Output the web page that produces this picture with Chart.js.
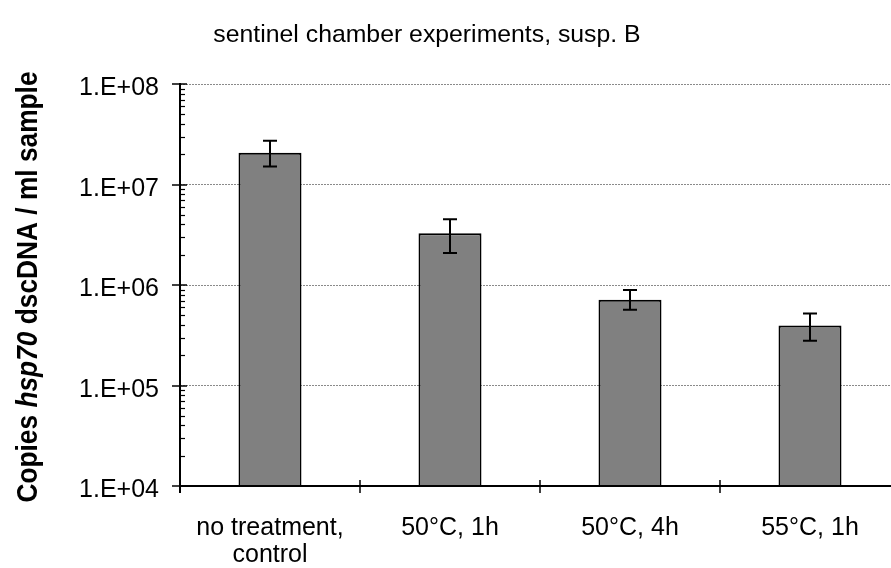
<!DOCTYPE html>
<html>
<head>
<meta charset="utf-8">
<script src="https://cdn.jsdelivr.net/npm/chart.js@4/dist/chart.umd.min.js"></script>
<style>
  html, body { margin: 0; padding: 0; background: #fff; overflow: hidden; }
  #wrap { width: 891px; height: 568px; overflow: hidden; position: relative; }
  #box { width: 901px; height: 568px; }
</style>
</head>
<body>
<div id="wrap"><div id="box"><canvas id="c" width="901" height="568"></canvas></div></div>
<script>
// Data
const chartTitle = 'sentinel chamber experiments, susp. B';
const categories = [['no treatment,', 'control'], ['50°C, 1h'], ['50°C, 4h'], ['55°C, 1h']];
const copies  = [2.07e7, 3.27e6, 7.14e5, 3.96e5];
const errHigh = [2.72e7, 4.50e6, 8.90e5, 5.21e5];
const errLow  = [1.51e7, 2.08e6, 5.68e5, 2.79e5];
const yTicks = [1e4, 1e5, 1e6, 1e7, 1e8];
const yTickLabels = ['1.E+04', '1.E+05', '1.E+06', '1.E+07', '1.E+08'];
const yTitleParts = [
  { text: 'Copies ', style: 'bold' },
  { text: 'hsp70', style: 'italic bold' },
  { text: ' dscDNA / ml sample', style: 'bold' }
];

const FONT = '"Liberation Sans", Arial, sans-serif';

function drawText(ctx, text, x, y, align, font) {
  ctx.save();
  ctx.font = font;
  ctx.textAlign = align;
  ctx.textBaseline = 'alphabetic';
  ctx.fillStyle = '#000';
  ctx.fillText(text, x, y);
  ctx.restore();
}

// Error bars from errLow / errHigh
const errorBars = {
  id: 'errorBars',
  afterDatasetsDraw(chart) {
    const { ctx, scales: { y } } = chart;
    const meta = chart.getDatasetMeta(0);
    ctx.save();
    ctx.strokeStyle = '#000';
    ctx.lineWidth = 2;
    meta.data.forEach((bar, i) => {
      const yh = y.getPixelForValue(errHigh[i]);
      const yl = y.getPixelForValue(errLow[i]);
      ctx.beginPath();
      ctx.moveTo(bar.x, yh); ctx.lineTo(bar.x, yl);
      ctx.moveTo(bar.x - 7, yh); ctx.lineTo(bar.x + 7, yh);
      ctx.moveTo(bar.x - 7, yl); ctx.lineTo(bar.x + 7, yl);
      ctx.stroke();
    });
    ctx.restore();
  }
};

// Axis lines, tick marks, tick labels and titles
const axisDecor = {
  id: 'axisDecor',
  afterDraw(chart) {
    const { ctx, chartArea: a, scales: { x, y } } = chart;
    ctx.save();
    ctx.strokeStyle = '#000';
    // axis lines
    ctx.lineWidth = 2;
    ctx.beginPath();
    ctx.moveTo(a.left, a.top - 1); ctx.lineTo(a.left, a.bottom + 7);
    ctx.moveTo(a.left, a.bottom); ctx.lineTo(a.right, a.bottom);
    ctx.stroke();
    // y major ticks (crossing) and labels
    ctx.lineWidth = 1.5;
    yTicks.forEach((v, i) => {
      const py = Math.round(y.getPixelForValue(v));
      ctx.beginPath();
      ctx.moveTo(a.left - 8, py); ctx.lineTo(a.left + 7, py);
      ctx.stroke();
      drawText(ctx, yTickLabels[i], 159, py + 10.5, 'right', '25px ' + FONT);
    });
    // y minor ticks (inside)
    ctx.lineWidth = 1.2;
    for (let k = 0; k < yTicks.length - 1; k++) {
      for (let m = 2; m <= 9; m++) {
        const py = Math.round(y.getPixelForValue(yTicks[k] * m)) + 0.5;
        ctx.beginPath();
        ctx.moveTo(a.left, py); ctx.lineTo(a.left + 5, py);
        ctx.stroke();
      }
    }
    // x category boundary ticks (crossing)
    ctx.lineWidth = 1.5;
    for (let i = 0; i <= categories.length; i++) {
      let px;
      if (i === 0) px = a.left;
      else if (i === categories.length) px = a.right;
      else px = (x.getPixelForValue(i - 1) + x.getPixelForValue(i)) / 2;
      px = Math.round(px);
      ctx.beginPath();
      ctx.moveTo(px, a.bottom - 6); ctx.lineTo(px, a.bottom + 7);
      ctx.stroke();
    }
    // x labels
    categories.forEach((lines, i) => {
      const px = x.getPixelForValue(i);
      lines.forEach((t, j) => {
        drawText(ctx, t, px, a.bottom + 49 + j * 27, 'center', '25px ' + FONT);
      });
    });
    // chart title
    drawText(ctx, chartTitle, 427, 42, 'center', '24.8px ' + FONT);
    // y axis title (rotated, mixed styles)
    ctx.save();
    ctx.translate(37, 287);
    ctx.rotate(-Math.PI / 2);
    ctx.scale(1, 1.1);
    ctx.fillStyle = '#000';
    ctx.textBaseline = 'alphabetic';
    ctx.textAlign = 'left';
    const size = '26.3px ';
    let total = 0;
    yTitleParts.forEach(p => { ctx.font = p.style + ' ' + size + FONT; total += ctx.measureText(p.text).width; });
    let cx = -total / 2;
    yTitleParts.forEach(p => {
      ctx.font = p.style + ' ' + size + FONT;
      ctx.fillText(p.text, cx, 0);
      cx += ctx.measureText(p.text).width;
    });
    ctx.restore();
    ctx.restore();
  }
};

new Chart(document.getElementById('c'), {
  type: 'bar',
  data: {
    labels: categories,
    datasets: [{
      data: copies,
      backgroundColor: '#808080',
      borderColor: '#000',
      borderWidth: 2,
      barPercentage: 0.35,
      categoryPercentage: 1.0
    }]
  },
  options: {
    responsive: false,
    animation: false,
    devicePixelRatio: 1,
    layout: { padding: { top: 84, right: 1, left: 0, bottom: 0 } },
    plugins: { legend: { display: false }, title: { display: false }, tooltip: { enabled: false } },
    scales: {
      x: {
        type: 'category',
        offset: true,
        grid: { display: false, offset: true },
        border: { display: false },
        ticks: { display: false },
        afterFit(scale) { scale.height = 82; }
      },
      y: {
        type: 'logarithmic',
        min: 1e4,
        max: 1e8,
        afterBuildTicks(scale) { scale.ticks = yTicks.map(v => ({ value: v, major: true })); },
        grid: { color: '#8a8a8a', lineWidth: 1, drawTicks: false },
        border: { display: false, dash: [2, 1] },
        ticks: { display: false },
        afterFit(scale) { scale.width = 180; }
      }
    }
  },
  plugins: [errorBars, axisDecor]
});
</script>
</body>
</html>
